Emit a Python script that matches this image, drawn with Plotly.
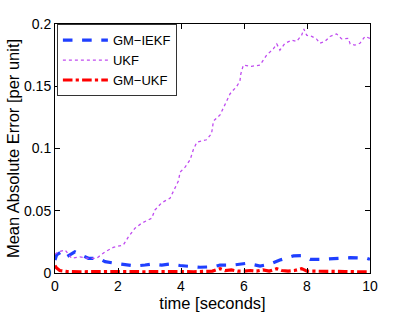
import plotly.graph_objects as go

# GM-IEKF
t_iekf = [0.0, 0.05, 0.21, 0.37, 0.63, 0.79, 1.06, 1.38, 1.59, 1.9, 2.22, 2.54, 2.86, 3.07, 3.39, 3.65,
          3.97, 4.29, 4.6, 5.03, 5.24, 5.66, 6.08, 6.51, 6.83, 7.14, 7.57, 7.83, 8.1, 8.41, 8.84, 9.37,
          9.9, 10.0]
v_iekf = [0.0104, 0.0145, 0.017, 0.013, 0.017, 0.015, 0.0118, 0.0118, 0.0091, 0.0078, 0.0064, 0.0056,
          0.0064, 0.0072, 0.0064, 0.0072, 0.006, 0.005, 0.0046, 0.005, 0.0064, 0.0064, 0.0078, 0.0056,
          0.0072, 0.0104, 0.0137, 0.0139, 0.011, 0.011, 0.0118, 0.0123, 0.0118, 0.011]

# UKF
t_ukf = [0.0, 0.1, 0.32, 0.53, 0.79, 1.06, 1.32, 1.59, 1.85, 2.17, 2.33, 2.54, 2.75, 3.07, 3.17, 3.39,
         3.65, 3.76, 3.92, 3.97, 4.13, 4.29, 4.39, 4.5, 4.81, 4.97, 5.03, 5.24, 5.4, 5.47, 5.56, 5.77,
         5.87, 5.9, 5.98, 6.24, 6.51, 6.72, 6.93, 7.04, 7.14, 7.3, 7.51, 7.67, 7.83, 7.9, 7.99, 8.15,
         8.3, 8.41, 8.57, 8.73, 8.94, 9.1, 9.31, 9.37, 9.52, 9.68, 9.84, 10.0]
v_ukf = [0.015, 0.017, 0.0185, 0.0118, 0.013, 0.0118, 0.0118, 0.017, 0.0206, 0.0225, 0.029, 0.036,
         0.040, 0.044, 0.0506, 0.0565, 0.060, 0.066, 0.074, 0.081, 0.085, 0.091, 0.099, 0.105, 0.107,
         0.112, 0.122, 0.127, 0.135, 0.139, 0.144, 0.150, 0.154, 0.160, 0.167, 0.166, 0.167, 0.175,
         0.180, 0.184, 0.179, 0.1845, 0.187, 0.186, 0.191, 0.196, 0.191, 0.190, 0.188, 0.1845, 0.186,
         0.190, 0.192, 0.188, 0.1885, 0.184, 0.183, 0.1845, 0.190, 0.1885]

# GM-UKF
t_gmukf = [0.0, 0.05, 0.15, 0.4, 0.8, 1.2, 1.6, 2.0, 2.4, 2.8, 3.2, 3.6, 4.0, 4.4, 4.8, 5.0, 5.24,
           5.4, 5.6, 5.8, 6.0, 6.2, 6.4, 6.6, 6.8, 7.04, 7.2, 7.4, 7.6, 7.83, 8.0, 8.4, 8.8, 9.2,
           9.6, 10.0]
v_gmukf = [0.006, 0.004, 0.002, 0.0012, 0.001, 0.0012, 0.001, 0.001, 0.0012, 0.001, 0.0012, 0.001,
           0.0012, 0.001, 0.001, 0.0015, 0.0035, 0.002, 0.0025, 0.0015, 0.0015, 0.002, 0.0015, 0.0025,
           0.0015, 0.0035, 0.002, 0.0015, 0.002, 0.0035, 0.0015, 0.0012, 0.001, 0.0012, 0.001, 0.001]

x_ticks = [0, 2, 4, 6, 8, 10]
y_ticks = [0, 0.05, 0.1, 0.15, 0.2]
y_tick_labels = ["0", "0.05", "0.1", "0.15", "0.2"]

fig = go.Figure()
fig.add_trace(go.Scatter(x=t_iekf, y=v_iekf, mode="lines", name="GM\u2212IEKF",
                         line=dict(color="#1f3fff", width=3.2, dash="dash")))
fig.add_trace(go.Scatter(x=t_ukf, y=v_ukf, mode="lines", name="UKF",
                         line=dict(color="#c04cf0", width=1.3, dash="dot")))
fig.add_trace(go.Scatter(x=t_gmukf, y=v_gmukf, mode="lines", name="GM\u2212UKF",
                         line=dict(color="#ff0000", width=3.2, dash="dashdot")))

axis_common = dict(showline=True, linecolor="black", linewidth=1, mirror="ticks",
                   ticks="inside", ticklen=5, tickcolor="black", showgrid=False, zeroline=False,
                   automargin=False,
                   tickfont=dict(family="Liberation Sans, Arial", size=14, color="black"))

fig.update_layout(
    width=409, height=312,
    margin=dict(l=55, r=39, t=24, b=39),
    paper_bgcolor="white", plot_bgcolor="white",
    font=dict(family="Liberation Sans, Arial", color="black"),
    xaxis=dict(range=[0, 10], tickvals=x_ticks,
               title=dict(text="time [seconds]", font=dict(size=16.5), standoff=0), **axis_common),
    yaxis=dict(range=[0, 0.2], tickvals=y_ticks, ticktext=y_tick_labels,
               title=dict(text="Mean Absolute Error [per unit]", font=dict(size=16.5), standoff=0),
               **axis_common),
    legend=dict(x=0.006, y=0.999, xanchor="left", yanchor="top", bgcolor="white",
                bordercolor="#333333", borderwidth=1, font=dict(size=13),
                itemwidth=45, tracegroupgap=0),
    showlegend=True,
)

fig.write_html("out.html", config={"displayModeBar": False},
               post_script="document.body.style.margin='0';")
